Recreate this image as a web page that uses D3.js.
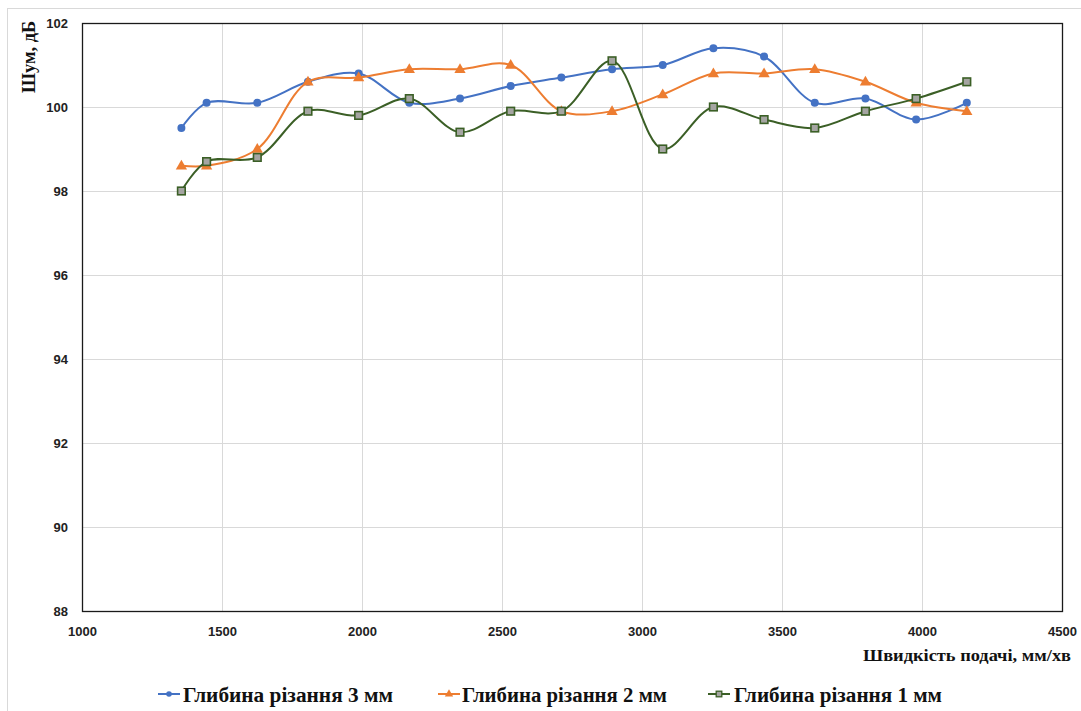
<!DOCTYPE html>
<html>
<head>
<meta charset="utf-8">
<script src="https://cdn.jsdelivr.net/npm/d3@7/dist/d3.min.js"></script>
<style>
  html, body { margin: 0; padding: 0; background: #fff; }
  svg { display: block; }
</style>
</head>
<body>
<svg id="chart" width="1081" height="711"></svg>
<script>
// ---- data ----
const speeds = [1355, 1445, 1626, 1807, 1988, 2169, 2350, 2531, 2712, 2893, 3074, 3255, 3436, 3617, 3798, 3979, 4160];
const depth3 = [99.5, 100.1, 100.1, 100.6, 100.8, 100.1, 100.2, 100.5, 100.7, 100.9, 101.0, 101.4, 101.2, 100.1, 100.2, 99.7, 100.1];
const depth2 = [98.6, 98.6, 99.0, 100.6, 100.7, 100.9, 100.9, 101.0, 99.9, 99.9, 100.3, 100.8, 100.8, 100.9, 100.6, 100.1, 99.9];
const depth1 = [98.0, 98.7, 98.8, 99.9, 99.8, 100.2, 99.4, 99.9, 99.9, 101.1, 99.0, 100.0, 99.7, 99.5, 99.9, 100.2, 100.6];
const seriesNames = ["Глибина різання 3 мм", "Глибина різання 2 мм", "Глибина різання 1 мм"];
const xTicks = [1000, 1500, 2000, 2500, 3000, 3500, 4000, 4500];
const yTicks = [88, 90, 92, 94, 96, 98, 100, 102];
const xTitle = "Швидкість подачі, мм/хв";
const yTitle = "Шум, дБ";

// ---- layout ----
const svg = d3.select("#chart");
const L = 82, T = 23, W = 980, H = 588;
const x = d3.scaleLinear().domain([1000, 4500]).range([L, L + W]);
const y = d3.scaleLinear().domain([88, 102]).range([T + H, T]);

// outer chart border
svg.append("rect").attr("x", 7.5).attr("y", 8.5).attr("width", 1200).attr("height", 900)
  .attr("fill", "none").attr("stroke", "#d9d9d9").attr("stroke-width", 1);

// gridlines
const g = svg.append("g");
g.append("g").attr("transform", `translate(0,${T + H})`)
  .call(d3.axisBottom(x).tickValues(xTicks).tickSize(-H).tickFormat(""))
  .call(s => s.select(".domain").remove())
  .call(s => s.selectAll("line").attr("stroke", "#d9d9d9").attr("stroke-width", 1));
g.append("g").attr("transform", `translate(${L},0)`)
  .call(d3.axisLeft(y).tickValues(yTicks).tickSize(-W).tickFormat(""))
  .call(s => s.select(".domain").remove())
  .call(s => s.selectAll("line").attr("stroke", "#d9d9d9").attr("stroke-width", 1));

// plot border
svg.append("rect").attr("x", L + 0.5).attr("y", T + 0.5).attr("width", W).attr("height", H)
  .attr("fill", "none").attr("stroke", "#1a1a1a").attr("stroke-width", 1.3);

// tick labels
const xa = svg.append("g").attr("transform", `translate(0,${T + H})`)
  .call(d3.axisBottom(x).tickValues(xTicks).tickSize(0).tickPadding(16).tickFormat(d3.format("d")));
xa.select(".domain").remove();
xa.selectAll("text").attr("font-family", "'Liberation Sans', Arial, sans-serif")
  .attr("font-weight", "bold").attr("font-size", "13px").attr("fill", "#222");
const ya = svg.append("g").attr("transform", `translate(${L},0)`)
  .call(d3.axisLeft(y).tickValues(yTicks).tickSize(0).tickPadding(14).tickFormat(d3.format("d")));
ya.select(".domain").remove();
ya.selectAll("text").attr("font-family", "'Liberation Sans', Arial, sans-serif")
  .attr("font-weight", "bold").attr("font-size", "13px").attr("fill", "#222");

// axis titles
svg.append("text").attr("x", 863).attr("y", 661)
  .attr("font-family", "'Liberation Serif', 'Times New Roman', serif")
  .attr("font-weight", "bold").attr("font-size", "17px").attr("fill", "#111")
  .attr("textLength", 208).attr("lengthAdjust", "spacingAndGlyphs")
  .text(xTitle);
svg.append("text").attr("transform", "translate(35,57) rotate(-90)")
  .attr("text-anchor", "middle")
  .attr("font-family", "'Liberation Serif', 'Times New Roman', serif")
  .attr("font-weight", "bold").attr("font-size", "18px").attr("fill", "#111")
  .attr("textLength", 72).attr("lengthAdjust", "spacingAndGlyphs")
  .text(yTitle);

// series
const colors = ["#4472c4", "#ed7d31", "#3b5f26"];
const values = [depth3, depth2, depth1];
const line = d3.line().x(d => x(d[0])).y(d => y(d[1])).curve(d3.curveCatmullRom.alpha(0.5));

function drawMarker(sel, i, cx, cy) {
  if (i === 0) {
    sel.append("circle").attr("cx", cx).attr("cy", cy).attr("r", 4).attr("fill", colors[0]);
  } else if (i === 1) {
    sel.append("path").attr("transform", `translate(${cx},${cy + 0.5})`)
      .attr("d", d3.symbol().type(d3.symbolTriangle).size(55)()).attr("fill", colors[1]);
  } else {
    sel.append("rect").attr("x", cx - 3.8).attr("y", cy - 3.8).attr("width", 7.6).attr("height", 7.6)
      .attr("fill", "#a5a5a2").attr("stroke", colors[2]).attr("stroke-width", 1.6);
  }
}

values.forEach((vals, i) => {
  const pts = speeds.map((s, k) => [s, vals[k]]);
  const sg = svg.append("g");
  sg.append("path").attr("d", line(pts)).attr("fill", "none")
    .attr("stroke", colors[i]).attr("stroke-width", 2);
  pts.forEach(p => drawMarker(sg, i, x(p[0]), y(p[1])));
});

// legend
const legendPos = [{lx: 158, tx: 183, tw: 210}, {lx: 438, tx: 462, tw: 205}, {lx: 708, tx: 734, tw: 208}];
const ly = 694;
legendPos.forEach((p, i) => {
  const lg = svg.append("g");
  lg.append("line").attr("x1", p.lx).attr("x2", p.lx + 22).attr("y1", ly).attr("y2", ly)
    .attr("stroke", colors[i]).attr("stroke-width", 2);
  const cx = p.lx + 11;
  if (i === 0) lg.append("circle").attr("cx", cx).attr("cy", ly).attr("r", 2.8).attr("fill", colors[0]);
  else if (i === 1) lg.append("path").attr("transform", `translate(${cx},${ly})`)
      .attr("d", d3.symbol().type(d3.symbolTriangle).size(30)()).attr("fill", colors[1]);
  else lg.append("rect").attr("x", cx - 2.8).attr("y", ly - 2.8).attr("width", 5.6).attr("height", 5.6)
      .attr("fill", "#a5a5a2").attr("stroke", colors[2]).attr("stroke-width", 1.3);
  lg.append("text").attr("x", p.tx).attr("y", ly + 7.5)
    .attr("font-family", "'Liberation Serif', 'Times New Roman', serif")
    .attr("font-weight", "bold").attr("font-size", "20px").attr("fill", "#111")
    .attr("textLength", p.tw).attr("lengthAdjust", "spacingAndGlyphs")
    .text(seriesNames[i]);
});
</script>
</body>
</html>
